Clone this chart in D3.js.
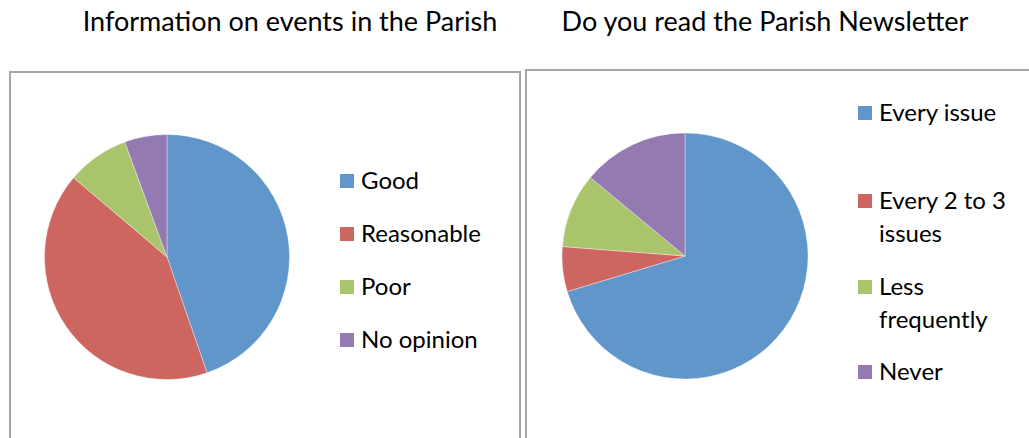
<!DOCTYPE html>
<html>
<head>
<meta charset="utf-8">
<script src="https://cdn.jsdelivr.net/npm/d3@7"></script>
<style>
  html, body { margin: 0; padding: 0; background: #fff; }
  svg { display: block; }
  text { font-family: Lato, "Open Sans", sans-serif; fill: #000; }
</style>
</head>
<body>
<svg id="chart" width="1029" height="438"></svg>
<script>
// ---- data ----
const title1 = "Information on events in the Parish";
const categories1 = ["Good", "Reasonable", "Poor", "No opinion"];
const values1 = [44.7, 41.5, 8.2, 5.6];

const title2 = "Do you read the Parish Newsletter";
const categories2 = ["Every issue", "Every 2 to 3 issues", "Less frequently", "Never"];
const values2 = [70.4, 5.9, 9.8, 14.0];

const colors = ["#6096CA", "#CD6660", "#AAC46C", "#937BB1"];

// ---- layout ----
const svg = d3.select("#chart");
const fontSize = 24;
const lineH = 33;

function drawPie(cfg) {
  const g = svg.append("g");
  // frame
  g.append("rect")
    .attr("x", cfg.box[0]).attr("y", cfg.box[1])
    .attr("width", cfg.box[2]).attr("height", cfg.box[3])
    .attr("fill", "#fff").attr("stroke", "#a6a6a6").attr("stroke-width", 2);
  // title
  g.append("text")
    .attr("x", cfg.titleX).attr("y", 31)
    .attr("text-anchor", "middle")
    .style("font-size", "27px")
    .text(cfg.title);

  const pie = d3.pie().sort(null).value(d => d);
  const arc = d3.arc().innerRadius(0).outerRadius(cfg.r);
  const color = d3.scaleOrdinal().domain(cfg.categories).range(colors);
  const pg = g.append("g").attr("transform", `translate(${cfg.cx},${cfg.cy})`);
  pg.selectAll("path")
    .data(pie(cfg.values))
    .join("path")
    .attr("d", arc)
    .attr("fill", (d, i) => color(cfg.categories[i]))
    .attr("stroke", "#fff").attr("stroke-width", 0.6).attr("stroke-opacity", 0.6);

  // legend
  const lg = g.append("g");
  cfg.categories.forEach((c, i) => {
    const lines = wrap(c, cfg.wrapW);
    const y0 = cfg.legendY[i];
    lg.append("rect")
      .attr("x", cfg.legendX).attr("y", y0 - 7)
      .attr("width", 14).attr("height", 14)
      .attr("fill", color(c));
    const t = lg.append("text")
      .attr("x", cfg.legendX + 21).attr("y", y0 + 8)
      .style("font-size", fontSize + "px");
    lines.forEach((ln, j) => {
      t.append("tspan").attr("x", cfg.legendX + 21).attr("y", y0 + 8 + j * lineH).text(ln);
    });
  });
}

// simple width-based word wrap
const measurer = svg.append("text").style("font-size", fontSize + "px").attr("visibility", "hidden");
function wrap(str, maxW) {
  const words = str.split(" ");
  const lines = [];
  let cur = "";
  words.forEach(w => {
    const test = cur ? cur + " " + w : w;
    measurer.text(test);
    if (cur && measurer.node().getComputedTextLength() > maxW) {
      lines.push(cur); cur = w;
    } else cur = test;
  });
  if (cur) lines.push(cur);
  return lines;
}

drawPie({
  title: title1, titleX: 290, categories: categories1, values: values1,
  box: [10, 72, 510, 400], cx: 167, cy: 257, r: 122.5,
  legendX: 340, legendY: [181, 234, 287, 340], wrapW: 170
});

drawPie({
  title: title2, titleX: 765, categories: categories2, values: values2,
  box: [526, 70, 520, 400], cx: 685, cy: 256, r: 123,
  legendX: 858, legendY: [113, 201, 287, 372], wrapW: 145
});
</script>
</body>
</html>
